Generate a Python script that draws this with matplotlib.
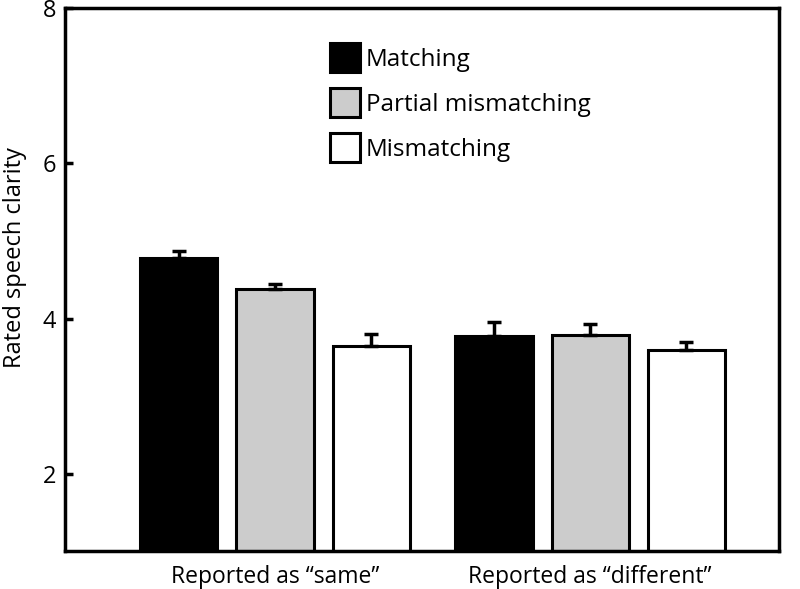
import matplotlib
matplotlib.use("Agg")
import matplotlib.pyplot as plt
import numpy as np

groups = ["Reported as \u201csame\u201d", "Reported as \u201cdifferent\u201d"]
conditions = ["Matching", "Partial mismatching", "Mismatching"]
means = {
    "Matching": [4.78, 3.77],
    "Partial mismatching": [4.38, 3.79],
    "Mismatching": [3.65, 3.59],
}
errors = {
    "Matching": [0.09, 0.19],
    "Partial mismatching": [0.07, 0.14],
    "Mismatching": [0.15, 0.11],
}
colors = {"Matching": "#000000", "Partial mismatching": "#cccccc", "Mismatching": "#ffffff"}
yticks = [2, 4, 6, 8]

plt.rcParams['font.family'] = ['Open Sans', 'DejaVu Sans']

fig = plt.figure(figsize=(8, 5.89), dpi=100)
ax = fig.add_axes([0.081, 0.064, 0.893, 0.922])

x = np.arange(1, len(groups) + 1)
width = 0.245
offset = 0.305
for i, c in enumerate(conditions):
    pos = x + (i - 1) * offset
    ax.bar(pos, means[c], width, bottom=0, color=colors[c], edgecolor="black",
           linewidth=2.2, label=c, zorder=2)
    ax.errorbar(pos, means[c], yerr=[np.zeros(len(groups)), errors[c]], fmt="none",
                ecolor="black", elinewidth=2.5, capsize=5, capthick=2.5, zorder=3)

ax.set_ylim(1, 8)
ax.set_xlim(0.333, 2.6)
ax.set_yticks(yticks)
ax.set_yticklabels([str(t) for t in yticks], fontsize=17)
ax.tick_params(axis="y", direction="in", length=6, width=2.5, pad=6)
ax.set_xticks(x)
ax.set_xticklabels(groups, fontsize=16.5)
ax.tick_params(axis="x", length=0, pad=10)
ax.set_ylabel("Rated speech clarity", fontsize=17)
ax.yaxis.set_label_coords(-0.053, 0.54)
for s in ax.spines.values():
    s.set_linewidth(2.5)

leg = ax.legend(loc="upper left", bbox_to_anchor=(0.357, 0.953), frameon=False,
                fontsize=17.5, handlelength=1.25, handleheight=1.45, handletextpad=0.25,
                labelspacing=0.66, borderaxespad=0)

fig.savefig("out.png", dpi=100)
